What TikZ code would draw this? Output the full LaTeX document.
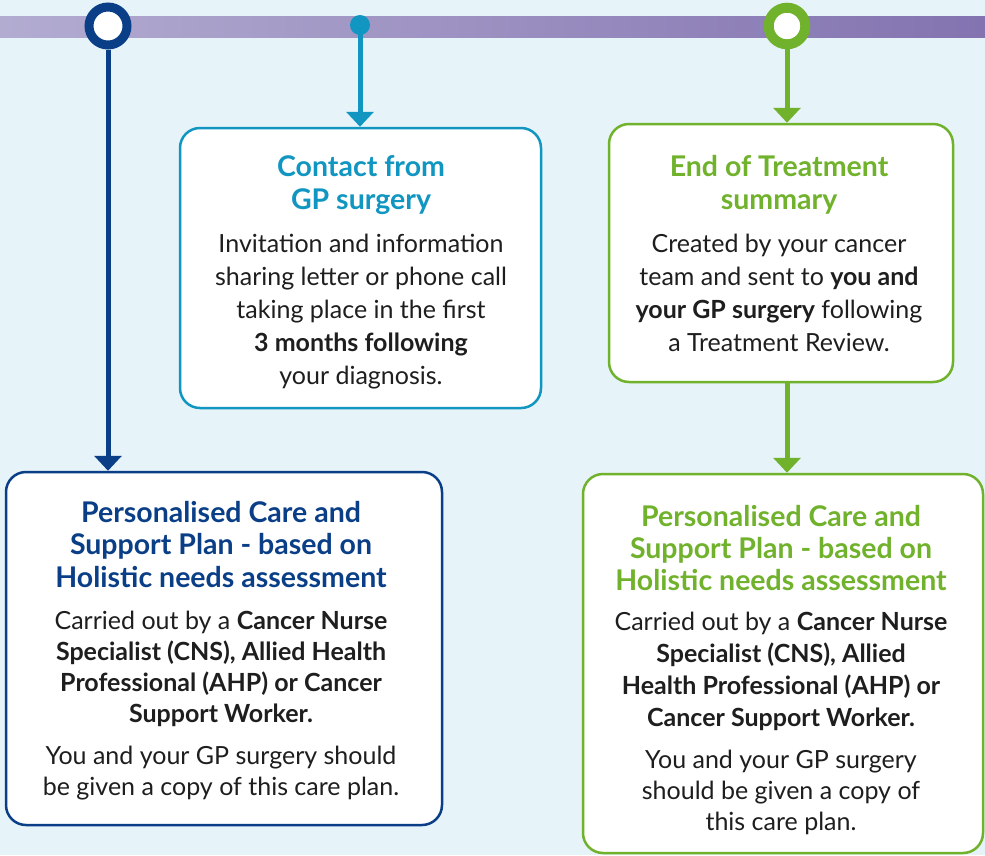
\documentclass[tikz,border=0pt]{standalone}
\usepackage{fontspec}
\setmainfont{Lato}
\usetikzlibrary{arrows.meta}
\definecolor{bg}{HTML}{E6F3F8}
\definecolor{navy}{HTML}{0A3F88}
\definecolor{tealc}{HTML}{1196C1}
\definecolor{grn}{HTML}{71B22D}
\definecolor{barL}{HTML}{B3ACD1}
\definecolor{barR}{HTML}{8373B0}
\definecolor{txt}{HTML}{1E1E1E}
\begin{document}
\begin{tikzpicture}[x=1pt,y=-1pt,
  box/.style={draw, line width=2.5pt, rounded corners=20pt, fill=white, inner sep=0pt},
  ttl/.style={font=\bfseries\fontsize{28.5}{33}\selectfont, align=center, anchor=base, inner sep=0pt},
  bdy/.style={font=\fontsize{25}{33}\selectfont, text=txt, align=center, anchor=base, inner sep=0pt},
  conn/.style={line width=5pt, -{Triangle[width=27pt,length=15pt]}},
  ring/.style={circle, fill=white, inner sep=0pt}
]
\path[use as bounding box, fill=bg] (0,0) rectangle (985,855);
\shade[left color=barL, right color=barR] (0,16) rectangle (985,37);

% boxes
\node[box, draw=navy, minimum width=436pt, minimum height=353pt] (lbox) at (224,648.5) {};
\node[box, draw=tealc, minimum width=361pt, minimum height=280pt] (tbox) at (360.5,268) {};
\node[box, draw=grn, minimum width=344pt, minimum height=258pt] (gbox) at (781,253) {};
\node[box, draw=grn, minimum width=400pt, minimum height=379pt] (rbox) at (783,663.5) {};

% markers on the bar
\node[ring, draw=navy, line width=9pt, minimum size=38pt] (r1) at (108,26) {};
\node[circle, fill=tealc, minimum size=20pt, inner sep=0pt] (d1) at (360,25) {};
\node[ring, draw=grn, line width=10pt, minimum size=36.6pt] (r2) at (787,26) {};

% connectors
\draw[conn, navy] (r1.south) -- (r1.south |- lbox.north);
\draw[conn, tealc] (d1.center) -- (d1.center |- tbox.north);
\draw[conn, grn] (r2.south) -- (r2.south |- gbox.north);
\draw[conn, grn] (r2.south |- gbox.south) -- (r2.south |- rbox.north);

% teal box text (anchor = baseline of last line)
\node[ttl, text=tealc] (t1) at (361,209) {Contact from\\GP surgery};
\node[bdy] (t2) at (361,384) {Invitation and information\\sharing letter or phone call\\taking place in the first\\\textbf{3 months following}\\your diagnosis.};

% green top box text
\node[ttl, text=grn] (g1) at (779,209) {End of Treatment\\summary};
\node[bdy] (g2) at (779,351) {Created by your cancer\\team and sent to \textbf{you and}\\\textbf{your GP surgery} following\\a Treatment Review.};

% left bottom box text
\node[ttl, text=navy, font=\bfseries\fontsize{28.5}{32.5}\selectfont] (l1) at (221,587) {Personalised Care and\\Support Plan - based on\\Holistic needs assessment};
\node[bdy, font=\fontsize{25}{31}\selectfont] (l2) at (221,722) {Carried out by a \textbf{Cancer Nurse}\\\textbf{Specialist (CNS), Allied Health}\\\textbf{Professional (AHP) or Cancer}\\\textbf{Support Worker.}};
\node[bdy, font=\fontsize{25}{31}\selectfont] (l3) at (221,795) {You and your GP surgery should\\be given a copy of this care plan.};

% right bottom box text
\node[ttl, text=grn, font=\bfseries\fontsize{28.5}{32}\selectfont] (rr1) at (781,590) {Personalised Care and\\Support Plan - based on\\Holistic needs assessment};
\node[bdy, font=\fontsize{25}{31.7}\selectfont] (rr2) at (781,726) {Carried out by a \textbf{Cancer Nurse}\\\textbf{Specialist (CNS), Allied}\\\textbf{Health Professional (AHP) or}\\\textbf{Cancer Support Worker.}};
\node[bdy, font=\fontsize{25}{31}\selectfont] (rr3) at (781,830) {You and your GP surgery\\should be given a copy of\\this care plan.};
\end{tikzpicture}
\end{document}
